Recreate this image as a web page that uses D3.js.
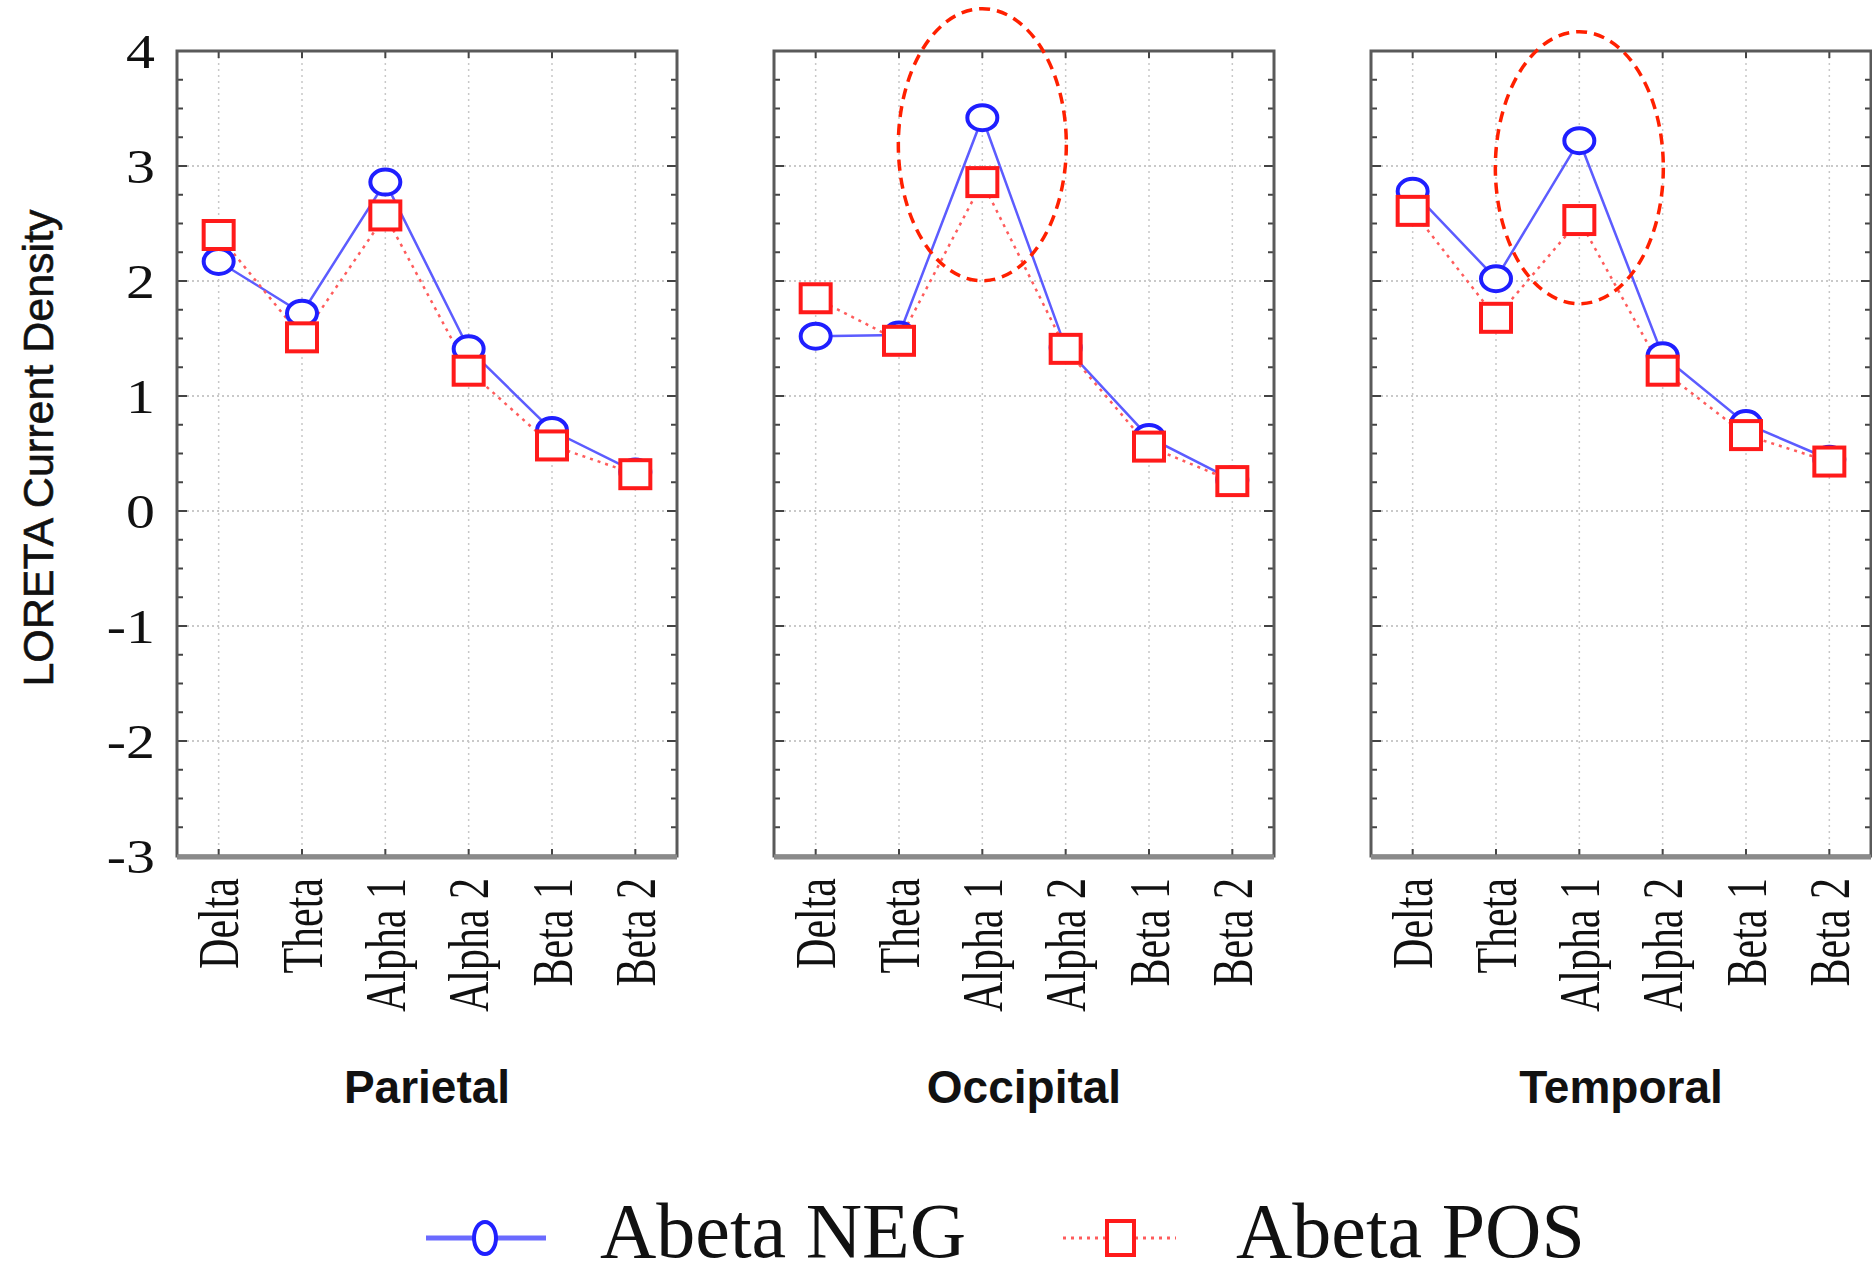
<!DOCTYPE html>
<html>
<head>
<meta charset="utf-8">
<script src="https://cdn.jsdelivr.net/npm/d3@7"></script>
<style>
  html, body { margin: 0; padding: 0; background: #fff; }
  svg { display: block; }
</style>
</head>
<body>
<svg id="chart" width="1872" height="1273"></svg>
<script>
// valores
const regions = ["Parietal", "Occipital", "Temporal"]
const bands = ["Delta", "Theta", "Alpha 1", "Alpha 2", "Beta 1", "Beta 2"]
const yTicks = [-3, -2, -1, 0, 1, 2, 3, 4]

const negParietal  = [2.17, 1.72, 2.86, 1.41, 0.70, 0.34]
const negOccipital = [1.52, 1.53, 3.42, 1.42, 0.64, 0.27]
const negTemporal  = [2.78, 2.02, 3.22, 1.35, 0.76, 0.45]

const posParietal  = [2.40, 1.51, 2.57, 1.22, 0.57, 0.32]
const posOccipital = [1.85, 1.48, 2.86, 1.41, 0.56, 0.26]
const posTemporal  = [2.61, 1.68, 2.53, 1.22, 0.66, 0.43]

const seriesNames = ["Abeta NEG", "Abeta POS"]
const highlighted = ["Occipital", "Temporal"]
const highlightBand = "Alpha 1"

const negByRegion = [negParietal, negOccipital, negTemporal]
const posByRegion = [posParietal, posOccipital, posTemporal]

const svg = d3.select('#chart')

const plotLeft = 177, plotTop = 51, plotBottom = 856
const panelW = 500, gap = 97

const y = d3.scaleLinear().domain([-3, 4]).range([plotBottom, plotTop])
const minorTicks = d3.range(-3, 4.001, 0.25)

const blue = '#1f1fff', red = '#ff1a1a'
const serif = '"Liberation Serif", "Times New Roman", serif'
const sans = '"Liberation Sans", Arial, sans-serif'

regions.forEach((region, i) => {
    const x0 = plotLeft + i * (panelW + gap)
    const x = d3.scalePoint().domain(bands).range([x0, x0 + panelW]).padding(0.5)
    const g = svg.append('g')

    // grilla punteada
    g.selectAll('.gy').data(yTicks.filter(d => d > -3 && d < 4)).join('line')
        .attr('x1', x0).attr('x2', x0 + panelW)
        .attr('y1', d => y(d)).attr('y2', d => y(d))
        .attr('stroke', '#b8b8b8').attr('stroke-width', 1.5)
        .attr('stroke-dasharray', '2,3')
    g.selectAll('.gx').data(bands).join('line')
        .attr('x1', d => x(d)).attr('x2', d => x(d))
        .attr('y1', plotTop).attr('y2', plotBottom)
        .attr('stroke', '#c8c8c8').attr('stroke-width', 1.5)
        .attr('stroke-dasharray', '2,4')

    // ticks hacia adentro
    g.selectAll('.tl').data(minorTicks).join('line')
        .attr('x1', x0).attr('x2', d => x0 + (Number.isInteger(d) ? 10 : 6))
        .attr('y1', d => y(d)).attr('y2', d => y(d))
        .attr('stroke', '#444').attr('stroke-width', 2)
    g.selectAll('.tr').data(minorTicks).join('line')
        .attr('x1', x0 + panelW).attr('x2', d => x0 + panelW - (Number.isInteger(d) ? 10 : 6))
        .attr('y1', d => y(d)).attr('y2', d => y(d))
        .attr('stroke', '#444').attr('stroke-width', 2)
    g.selectAll('.tt').data(bands).join('line')
        .attr('x1', d => x(d)).attr('x2', d => x(d))
        .attr('y1', plotTop).attr('y2', plotTop + 7)
        .attr('stroke', '#444').attr('stroke-width', 2)
    g.selectAll('.tb').data(bands).join('line')
        .attr('x1', d => x(d)).attr('x2', d => x(d))
        .attr('y1', plotBottom).attr('y2', plotBottom - 7)
        .attr('stroke', '#444').attr('stroke-width', 2)

    // marco
    g.append('rect')
        .attr('x', x0).attr('y', plotTop)
        .attr('width', panelW).attr('height', plotBottom - plotTop)
        .attr('fill', 'none').attr('stroke', '#5a5a5a').attr('stroke-width', 3)
    g.append('line')
        .attr('x1', x0).attr('x2', x0 + panelW)
        .attr('y1', plotBottom + 1).attr('y2', plotBottom + 1)
        .attr('stroke', '#8a8a8a').attr('stroke-width', 5)

    const neg = negByRegion[i].map((v, k) => [bands[k], v])
    const pos = posByRegion[i].map((v, k) => [bands[k], v])
    const line = d3.line().x(d => x(d[0])).y(d => y(d[1]))

    g.append('path').attr('d', line(neg))
        .attr('fill', 'none').attr('stroke', '#5c5cff').attr('stroke-width', 2.5)
    g.append('path').attr('d', line(pos))
        .attr('fill', 'none').attr('stroke', '#ff5c5c').attr('stroke-width', 2.5)
        .attr('stroke-dasharray', '3,5')

    g.selectAll('.neg').data(neg).join('ellipse')
        .attr('cx', d => x(d[0])).attr('cy', d => y(d[1]))
        .attr('rx', 15).attr('ry', 12.5)
        .attr('fill', 'white').attr('stroke', blue).attr('stroke-width', 4)
    g.selectAll('.pos').data(pos).join('rect')
        .attr('x', d => x(d[0]) - 15).attr('y', d => y(d[1]) - 14)
        .attr('width', 30).attr('height', 28)
        .attr('fill', 'white').attr('stroke', red).attr('stroke-width', 4)

    // etiquetas del eje x
    g.selectAll('.xl').data(bands).join('text')
        .attr('transform', d => `translate(${x(d)},${plotBottom + 22}) rotate(-90) scale(0.75,1)`)
        .attr('text-anchor', 'end').attr('dy', '0.35em')
        .attr('font-family', serif).attr('font-size', 56).attr('fill', '#111')
        .text(d => d)

    g.append('text')
        .attr('x', x0 + panelW / 2).attr('y', 1103)
        .attr('text-anchor', 'middle')
        .attr('font-family', sans).attr('font-weight', 'bold')
        .attr('font-size', 46).attr('fill', '#111')
        .text(region)

    if (i === 0) {
        g.selectAll('.yl').data(yTicks).join('text')
            .attr('transform', d => `translate(${x0 - 22},${y(d)}) scale(1.18,1)`)
            .attr('dy', '0.35em')
            .attr('text-anchor', 'end')
            .attr('font-family', serif).attr('font-size', 49).attr('fill', '#111')
            .text(d => d)
    }

    // elipse roja de resaltado
    if (highlighted.includes(region)) {
        const k = bands.indexOf(highlightBand)
        g.append('ellipse')
            .attr('cx', x(highlightBand)).attr('cy', y(negByRegion[i][k]) + 27)
            .attr('rx', 84).attr('ry', 136)
            .attr('fill', 'none').attr('stroke', '#ff2000')
            .attr('stroke-width', 3.5).attr('stroke-dasharray', '11,7')
    }
})

svg.append('text')
    .attr('transform', 'translate(53,448) rotate(-90)')
    .attr('text-anchor', 'middle')
    .attr('font-family', sans).attr('font-size', 43).attr('fill', '#111')
    .attr('stroke', '#111').attr('stroke-width', 0.6)
    .text('LORETA Current Density')

// leyenda
const legend = svg.append('g')
const ly = 1238
legend.append('line').attr('x1', 426).attr('x2', 546).attr('y1', ly).attr('y2', ly)
    .attr('stroke', '#6a6aff').attr('stroke-width', 5)
legend.append('ellipse').attr('cx', 485).attr('cy', ly).attr('rx', 11).attr('ry', 16)
    .attr('fill', 'white').attr('stroke', blue).attr('stroke-width', 4)
legend.append('text').attr('x', 600).attr('y', 1257)
    .attr('font-family', serif).attr('font-size', 78).attr('fill', '#111')
    .text(seriesNames[0])

legend.append('line').attr('x1', 1063).attr('x2', 1176).attr('y1', ly).attr('y2', ly)
    .attr('stroke', '#ff5c5c').attr('stroke-width', 3).attr('stroke-dasharray', '3,5')
legend.append('rect').attr('x', 1107).attr('y', ly - 17).attr('width', 27).attr('height', 34)
    .attr('fill', 'white').attr('stroke', red).attr('stroke-width', 4)
legend.append('text').attr('x', 1236).attr('y', 1257)
    .attr('font-family', serif).attr('font-size', 78).attr('fill', '#111')
    .text(seriesNames[1])
</script>
</body>
</html>
